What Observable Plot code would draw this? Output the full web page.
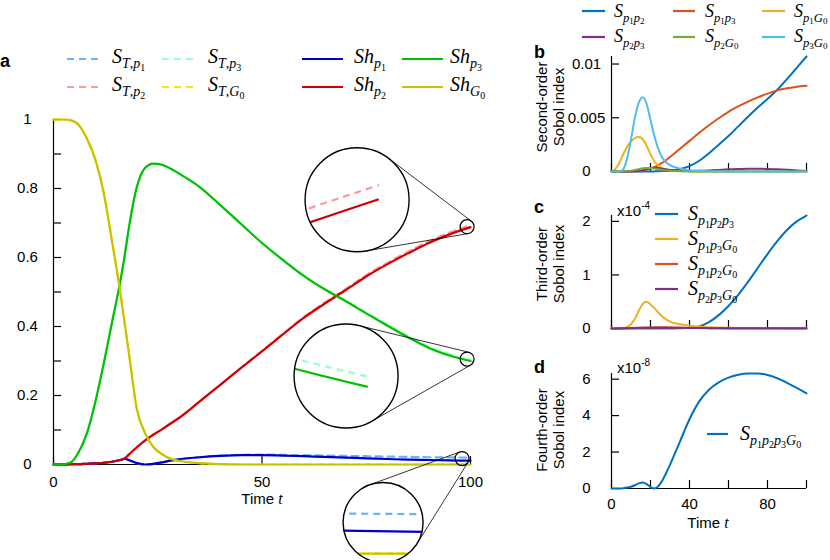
<!DOCTYPE html>
<html><head><meta charset="utf-8">
<script src="https://cdn.jsdelivr.net/npm/d3@7"></script>
<script src="https://cdn.jsdelivr.net/npm/@observablehq/plot@0.6"></script>
<style>
html,body{margin:0;padding:0;background:#fff;}
#fig{position:relative;width:830px;height:560px;overflow:hidden;background:#fff;}
#fig svg{position:absolute;left:0;top:0;}
</style></head><body><div id="fig"></div>
<script>
// ---------------- DATA ----------------
// Panel a: time grid and series
const tA = [0,2,4,6,8,10,12,14,16,17,18,20,22,24,26,28,30,35,40,45,50,55,60,65,70,75,80,85,90,95,100];
const ShP1 = [0,0,0.001,0.001,0.002,0.003,0.005,0.008,0.013,0.017,0.013,0.004,0,0.002,0.006,0.011,0.015,0.021,0.025,0.027,0.027,0.026,0.024,0.022,0.02,0.018,0.016,0.014,0.013,0.012,0.011];
const ShP2 = [0,0,0.001,0.001,0.002,0.003,0.005,0.008,0.013,0.017,0.028,0.05,0.07,0.087,0.102,0.118,0.134,0.182,0.231,0.28,0.328,0.377,0.425,0.466,0.505,0.545,0.58,0.612,0.642,0.667,0.688];
const ShP3 = [0,0,0.005,0.035,0.09,0.18,0.29,0.41,0.53,0.6,0.68,0.805,0.86,0.872,0.869,0.858,0.844,0.805,0.752,0.697,0.642,0.593,0.547,0.508,0.474,0.438,0.403,0.369,0.338,0.316,0.3];
const ShG0 = [1,1,0.998,0.985,0.945,0.885,0.79,0.65,0.5,0.415,0.33,0.16,0.09,0.05,0.03,0.017,0.011,0.004,0.001,0,0,0,0,0,0,0,0,0,0,0,0];
const STP1 = [0,0,0.001,0.001,0.002,0.003,0.005,0.008,0.013,0.017,0.013,0.004,0,0.002,0.006,0.011,0.015,0.021,0.026,0.028,0.029,0.028,0.027,0.026,0.025,0.024,0.023,0.022,0.021,0.0205,0.02];
const STP2 = [0,0,0.001,0.001,0.002,0.003,0.005,0.008,0.013,0.017,0.028,0.05,0.07,0.087,0.102,0.118,0.134,0.182,0.231,0.281,0.3295,0.379,0.4275,0.469,0.5085,0.549,0.5845,0.617,0.647,0.6725,0.6935];
const STP3 = [0,0,0.005,0.035,0.09,0.18,0.29,0.41,0.53,0.6,0.68,0.805,0.86,0.872,0.869,0.858,0.844,0.805,0.752,0.697,0.642,0.593,0.548,0.5095,0.476,0.4405,0.406,0.3725,0.342,0.32,0.304];
const STG0 = [1,1,0.998,0.985,0.945,0.885,0.79,0.65,0.5,0.415,0.33,0.16,0.09,0.05,0.03,0.017,0.011,0.004,0.001,0,0,0,0,0,0,0,0,0,0,0,0];
const ticksAy = [0,0.1,0.2,0.3,0.4,0.5,0.6,0.7,0.8,0.9,1];
const labelsAy = [0,0.2,0.4,0.6,0.8,1];
const ticksAx = [0,50,100];

// Panels b-d: time grid
const tB = [0,2,4,6,8,10,12,14,16,18,20,22,24,26,28,30,35,40,45,50,55,60,65,70,75,80,85,90,95,100];
// Panel b: second order (units of 1e-3)
const Sp1p2 = [0,0,0,0,0,0,0,0,0,0,0,0.01,0.02,0.04,0.07,0.1,0.22,0.5,1.0,1.7,2.5,3.3,4.2,5.1,5.95,6.75,7.6,8.6,9.65,10.7];
const Sp1p3 = [0,0,0,0,0,0,0.02,0.05,0.1,0.18,0.28,0.42,0.6,0.8,1.05,1.35,2.1,2.85,3.6,4.3,4.95,5.55,6.05,6.5,6.9,7.25,7.55,7.75,7.88,7.98];
const Sp1G0 = [0,0.25,0.8,1.6,2.3,2.8,3.1,3.2,3.0,2.4,1.6,0.95,0.55,0.3,0.18,0.1,0.04,0.02,0,0,0,0,0,0,0,0,0,0,0,0];
const Sp2p3 = [0,0,0,0,0,0,0.02,0.05,0.12,0.22,0.3,0.35,0.33,0.27,0.2,0.14,0.06,0.04,0.06,0.1,0.15,0.2,0.23,0.25,0.25,0.24,0.21,0.16,0.1,0.05];
const Sp2G0 = [0,0,0.01,0.02,0.05,0.08,0.14,0.22,0.3,0.33,0.32,0.27,0.2,0.14,0.09,0.06,0.02,0.01,0,0,0,0,0,0,0,0,0,0,0,0];
const Sp3G0 = [0,0,0,0.2,1.2,3.0,5.0,6.4,6.9,6.3,4.8,3.3,2.1,1.3,0.85,0.6,0.28,0.12,0.06,0.03,0.02,0.01,0,0,0,0,0,0,0,0];
const ticksBy = [0,0.005,0.01];
// Panel c: third order (units of 1e-4)
const Sp1p2p3 = [0,0,0,0,0,0,0,0,0,0,0,0,0,0,0,0,0.005,0.015,0.04,0.12,0.25,0.42,0.63,0.87,1.13,1.39,1.63,1.84,2.0,2.11];
const Sp1p3G0 = [0,0,0,0.005,0.03,0.08,0.18,0.33,0.46,0.5,0.45,0.38,0.3,0.23,0.17,0.13,0.08,0.05,0.035,0.025,0.018,0.013,0.01,0.007,0.005,0.004,0.003,0.002,0.001,0.001];
const Sp1p2G0 = [0,0,0.001,0.002,0.004,0.006,0.008,0.011,0.014,0.017,0.02,0.022,0.023,0.023,0.022,0.02,0.015,0.01,0.007,0.005,0.003,0.002,0.001,0,0,0,0,0,0,0];
const Sp2p3G0 = [0,0.001,0.003,0.005,0.007,0.009,0.011,0.012,0.013,0.014,0.015,0.015,0.015,0.015,0.014,0.014,0.012,0.01,0.008,0.007,0.006,0.005,0.005,0.004,0.004,0.004,0.003,0.003,0.003,0.003];
const ticksCy = [0,1,2];
// Panel d: fourth order (units of 1e-8)
const Sp1p2p3G0 = [0,0,0.005,0.02,0.05,0.1,0.18,0.28,0.33,0.24,0.08,0,0.12,0.42,0.85,1.3,2.55,3.8,4.78,5.42,5.82,6.08,6.24,6.31,6.31,6.23,6.05,5.8,5.52,5.22];
const ticksDy = [0,2,4,6];
const ticksRx = [0,20,40,60,80,100];
const labelsDx = [0,40,80];

// ---------------- STYLE ----------------
const sans = "'Liberation Sans', Arial, Helvetica, sans-serif";
const serif = "'Liberation Serif', 'Times New Roman', serif";
const plotStyle = `background: transparent; font-family: ${sans}; font-size: 15px; color: #000; overflow: visible;`;

const seriesA = [
  {key:"STP1", vals:STP1, color:"#66b3ff", dash:"7,5", main:"S", sub:"T,p1"},
  {key:"STP2", vals:STP2, color:"#ff9999", dash:"7,5", main:"S", sub:"T,p2"},
  {key:"STP3", vals:STP3, color:"#99ffcc", dash:"7,5", main:"S", sub:"T,p3"},
  {key:"STG0", vals:STG0, color:"#eeee00", dash:"7,5", main:"S", sub:"T,G0"},
  {key:"ShP1", vals:ShP1, color:"#0000cc", main:"Sh", sub:"p1"},
  {key:"ShP2", vals:ShP2, color:"#d00000", main:"Sh", sub:"p2"},
  {key:"ShP3", vals:ShP3, color:"#00c000", main:"Sh", sub:"p3"},
  {key:"ShG0", vals:ShG0, color:"#c8c200", main:"Sh", sub:"G0"}
];
const seriesB = [
  {vals:Sp1p2, color:"#0072BD", sub:"p1p2"},
  {vals:Sp1p3, color:"#D95319", sub:"p1p3"},
  {vals:Sp1G0, color:"#EDB120", sub:"p1G0"},
  {vals:Sp2p3, color:"#7E2F8E", sub:"p2p3"},
  {vals:Sp2G0, color:"#77AC30", sub:"p2G0"},
  {vals:Sp3G0, color:"#4DBEEE", sub:"p3G0"}
];
const seriesC = [
  {vals:Sp1p2p3, color:"#0072BD", sub:"p1p2p3"},
  {vals:Sp1p3G0, color:"#EDB120", sub:"p1p3G0"},
  {vals:Sp1p2G0, color:"#D95319", sub:"p1p2G0"},
  {vals:Sp2p3G0, color:"#7E2F8E", sub:"p2p3G0"}
];
const seriesD = [{vals:Sp1p2p3G0, color:"#0072BD", sub:"p1p2p3G0"}];

const fmt = d => String(+d.toFixed(4));
const blank = () => "";
const rowsOf = (ts, vals, k = 1) => ts.map((t, i) => ({t, v: vals[i] * k}));

// ---------------- PANEL A ----------------
const plotA = Plot.plot({
  width: 830, height: 560,
  marginLeft: 53, marginRight: 360, marginTop: 119, marginBottom: 96,
  x: {domain: [0, 100]}, y: {domain: [0, 1]},
  style: plotStyle,
  marks: [
    Plot.ruleX([0], {stroke: "#000", strokeWidth: 1.2}),
    Plot.ruleY([0], {stroke: "#000", strokeWidth: 1.2}),
    Plot.axisY({ticks: ticksAy, tickSize: 8, dx: 8, tickFormat: blank, label: null, strokeWidth: 1.2}),
    Plot.axisY({ticks: labelsAy, tickSize: 0, tickPadding: 26, textAnchor: "middle", tickFormat: fmt, label: null, fill: "#000"}),
    Plot.axisX({ticks: ticksAx, tickSize: 8, dy: -8, tickFormat: blank, label: null, strokeWidth: 1.2}),
    Plot.axisX({ticks: ticksAx, tickSize: 0, tickPadding: 12, tickFormat: fmt, label: null, fill: "#000"}),
    ...seriesA.map(s => Plot.line(rowsOf(tA, s.vals), {x: "t", y: "v", stroke: s.color, strokeWidth: 2.2, strokeDasharray: s.dash, curve: "monotone-x"}))
  ]
});

// ---------------- PANELS B, C, D ----------------
function rightPanel({series, k, top, bottom, yTicks, yFmt, xLabels}) {
  const yMax = d3.max(series.flatMap(s => s.vals)) * k;
  return Plot.plot({
    width: 830, height: 560,
    marginLeft: 611, marginRight: 24, marginTop: top, marginBottom: 560 - bottom,
    x: {domain: [0, 100]}, y: {domain: [0, yMax]},
    style: plotStyle,
    marks: [
      Plot.ruleX([0], {stroke: "#000", strokeWidth: 1.2}),
      Plot.ruleY([0], {stroke: "#000", strokeWidth: 1.2}),
      Plot.axisY({ticks: yTicks, tickSize: 8, dx: 8, tickFormat: blank, label: null, strokeWidth: 1.2}),
      Plot.axisY({ticks: yTicks, tickSize: 0, tickPadding: 25, textAnchor: "middle", tickFormat: yFmt, label: null, fill: "#000"}),
      Plot.axisX({ticks: ticksRx, tickSize: 8, dy: -8, tickFormat: blank, label: null, strokeWidth: 1.2}),
      xLabels ? Plot.axisX({ticks: xLabels, tickSize: 0, tickPadding: 10, tickFormat: fmt, label: null, fill: "#000"}) : null,
      ...series.map(s => Plot.line(rowsOf(tB, s.vals, k), {x: "t", y: "v", stroke: s.color, strokeWidth: 2, curve: "monotone-x"}))
    ]
  });
}
const plotB = rightPanel({series: seriesB, k: 1e-3, top: 56, bottom: 171, yTicks: ticksBy, yFmt: fmt});
const plotC = rightPanel({series: seriesC, k: 1, top: 215, bottom: 328, yTicks: ticksCy, yFmt: fmt});
const plotD = rightPanel({series: seriesD, k: 1, top: 373, bottom: 488, yTicks: ticksDy, yFmt: fmt, xLabels: labelsDx});

const fig = document.getElementById("fig");
[plotA, plotB, plotC, plotD].forEach(p => fig.appendChild(p));

// ---------------- INSETS (magnified views of panel a) ----------------
(function insets() {
  const sxd = plotA.scale("x"), syd = plotA.scale("y");
  const fx = d3.scaleLinear(sxd.domain, sxd.range);
  const fy = d3.scaleLinear(syd.domain, syd.range);
  const byKey = Object.fromEntries(seriesA.map(s => [s.key, s]));
  const interp = (s, t) => d3.scaleLinear(tA, s.vals)(t);
  const specs = [
    {t: 99.3, keys: ["ShP2", "STP2"], dx: -110, dy: -27, R: 52, r: 7},
    {t: 99.3, keys: ["ShP3", "STP3"], dx: -121, dy: 17, R: 52, r: 7},
    {t: 98.1, keys: ["ShP1", "STP1"], dx: -79, dy: 64, R: 40, r: 7}
  ];
  const svg = d3.select(plotA);
  const g = svg.append("g");
  specs.forEach((sp, i) => {
    const v = d3.mean(sp.keys, k => interp(byKey[k], sp.t));
    const cs = [fx(sp.t), fy(v)];
    const cb = [cs[0] + sp.dx, cs[1] + sp.dy];
    const m = sp.R / sp.r;
    // external tangents
    const ddx = cs[0] - cb[0], ddy = cs[1] - cb[1], D = Math.hypot(ddx, ddy);
    const ux = ddx / D, uy = ddy / D, ca = (sp.R - sp.r) / D, sa = Math.sqrt(1 - ca * ca);
    [1, -1].forEach(sg => {
      const nx = ux * ca - sg * uy * sa, ny = uy * ca + sg * ux * sa;
      g.append("line")
        .attr("x1", cb[0] + sp.R * nx).attr("y1", cb[1] + sp.R * ny)
        .attr("x2", cs[0] + sp.r * nx).attr("y2", cs[1] + sp.r * ny)
        .attr("stroke", "#000").attr("stroke-width", 0.8);
    });
    const id = "inclip" + i;
    g.append("clipPath").attr("id", id).append("circle").attr("cx", cb[0]).attr("cy", cb[1]).attr("r", sp.R);
    g.append("circle").attr("cx", cb[0]).attr("cy", cb[1]).attr("r", sp.R).attr("fill", "#fff");
    const gi = g.append("g").attr("clip-path", `url(#${id})`);
    const line = d3.line().curve(d3.curveMonotoneX);
    seriesA.forEach(s => {
      const pts = tA.map((t, j) => [cb[0] + m * (fx(t) - cs[0]), cb[1] + m * (fy(s.vals[j]) - cs[1])]);
      gi.append("path").attr("d", line(pts)).attr("fill", "none")
        .attr("stroke", s.color).attr("stroke-width", 2.2)
        .attr("stroke-dasharray", s.dash || null);
    });
    g.append("circle").attr("cx", cb[0]).attr("cy", cb[1]).attr("r", sp.R)
      .attr("fill", "none").attr("stroke", "#000").attr("stroke-width", 1.4);
    g.append("circle").attr("cx", cs[0]).attr("cy", cs[1]).attr("r", sp.r)
      .attr("fill", "none").attr("stroke", "#000").attr("stroke-width", 1.2);
  });
})();

// ---------------- OVERLAY: legends, labels ----------------
const ov = d3.select(fig).append("svg").attr("width", 830).attr("height", 560)
  .style("position", "absolute").style("left", 0).style("top", 0);

function mathText(x, y, main, sub, base = 20) {
  const t = ov.append("text").attr("x", x).attr("y", y)
    .attr("font-family", serif).attr("font-size", base).attr("fill", "#000");
  const sizes = [base, base * 0.7, base * 0.5];
  const shifts = [0, base * 0.25, base * 0.4];
  const toks = [[main, 0]].concat(sub.split("").map(c => [c, /[0-9]/.test(c) ? 2 : 1]));
  let lev = 0;
  toks.forEach(([s, l]) => {
    t.append("tspan").attr("font-size", sizes[l]).attr("dy", shifts[l] - shifts[lev])
      .attr("font-style", /[A-Za-z]/.test(s) ? "italic" : "normal").text(s);
    lev = l;
  });
}
function legendLine(x1, x2, y, color, dash) {
  ov.append("line").attr("x1", x1).attr("x2", x2).attr("y1", y).attr("y2", y)
    .attr("stroke", color).attr("stroke-width", 2.2).attr("stroke-dasharray", dash || null);
}
function plainText(x, y, txt, opts = {}) {
  const t = ov.append("text").attr("x", x).attr("y", y).attr("font-family", sans)
    .attr("font-size", opts.size || 15).attr("text-anchor", opts.anchor || "start")
    .attr("font-weight", opts.weight || null).attr("fill", "#000");
  if (opts.rotate) t.attr("transform", `rotate(-90 ${x} ${y})`);
  t.text(txt);
  return t;
}

// Legend a (2 rows x 4 columns)
const legA = [
  {s: seriesA[0], col: 0, row: 0}, {s: seriesA[2], col: 1, row: 0},
  {s: seriesA[4], col: 2, row: 0}, {s: seriesA[6], col: 3, row: 0},
  {s: seriesA[1], col: 0, row: 1}, {s: seriesA[3], col: 1, row: 1},
  {s: seriesA[5], col: 2, row: 1}, {s: seriesA[7], col: 3, row: 1}
];
const colA = [[67, 102, 112], [162, 197, 208], [302, 343, 354], [402, 443, 450]];
const rowA = [[59, 63], [87, 91]];
legA.forEach(({s, col, row}) => {
  legendLine(colA[col][0], colA[col][1], rowA[row][0], s.color, s.dash);
  mathText(colA[col][2], rowA[row][1], s.main, s.sub);
});

// Legend b (2 rows x 3 columns)
const colB = [[582, 605, 614], [673, 695, 705], [762, 785, 794]];
const rowB = [[11, 17], [37, 42]];
seriesB.forEach((s, i) => {
  const c = colB[i % 3], r = rowB[Math.floor(i / 3)];
  legendLine(c[0], c[1], r[0], s.color);
  mathText(c[2], r[1], "S", s.sub, 18);
});
// Legend c
seriesC.forEach((s, i) => {
  legendLine(655, 678, 214 + 25 * i, s.color);
  mathText(688, 220 + 25 * i, "S", s.sub);
});
// Legend d
legendLine(707, 728, 434, seriesD[0].color);
mathText(740, 440, "S", seriesD[0].sub);

// Exponent labels
[["-4", 216], ["-8", 373]].forEach(([e, y]) => {
  const t = ov.append("text").attr("x", 617).attr("y", y).attr("font-family", sans).attr("font-size", 15).attr("fill", "#000");
  t.append("tspan").text("x10");
  t.append("tspan").attr("font-size", 10).attr("dy", -7).text(e);
});

// Panel letters
plainText(0, 67, "a", {size: 18, weight: "bold"});
plainText(534, 58, "b", {size: 18, weight: "bold"});
plainText(534, 213, "c", {size: 18, weight: "bold"});
plainText(534, 373, "d", {size: 18, weight: "bold"});

// Y titles for b, c, d
[["Second-order", 107], ["Third-order", 264], ["Fourth-order", 430]].forEach(([l1, yc]) => {
  plainText(547, yc, l1, {anchor: "middle", rotate: true});
  plainText(564, yc, "Sobol index", {anchor: "middle", rotate: true});
});

// X titles
function timeLabel(xc, y) {
  const t = ov.append("text").attr("x", xc).attr("y", y).attr("text-anchor", "middle")
    .attr("font-family", sans).attr("font-size", 15).attr("fill", "#000");
  t.append("tspan").text("Time ");
  t.append("tspan").attr("font-family", serif).attr("font-style", "italic").attr("font-size", 16).text("t");
}
timeLabel(262, 504);
timeLabel(708, 528);
</script>
</body></html>
